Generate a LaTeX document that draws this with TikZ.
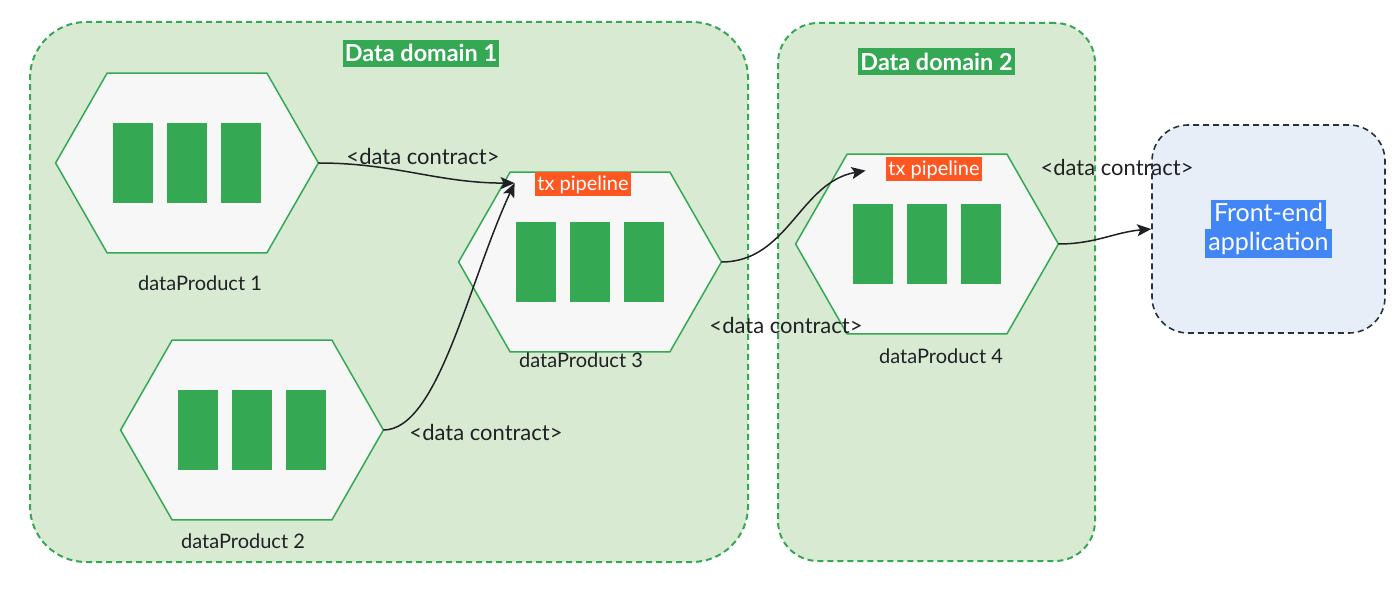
\documentclass[tikz,border=0pt]{standalone}
\usepackage{fontspec}
\setmainfont{Lato}
\usepackage{xcolor}
\usepackage{tikz}
\usetikzlibrary{arrows.meta, positioning}

\definecolor{domfill}{HTML}{D9EAD3}
\definecolor{ggreen}{HTML}{34A853}
\definecolor{hexfill}{HTML}{F6F7F6}
\definecolor{txorange}{HTML}{FF5722}
\definecolor{gblue}{HTML}{4285F4}
\definecolor{frontfill}{HTML}{E8EEF8}
\definecolor{frontline}{HTML}{263238}
\definecolor{txt}{HTML}{202124}

\setlength{\fboxsep}{1.5pt}
\newcommand{\hlblue}[1]{\colorbox{gblue}{\vphantom{Fp}#1}}

\begin{document}
\begin{tikzpicture}[
    x=0.5pt, y=0.5pt,
    domainbox/.style={rectangle, draw=ggreen, fill=domfill, line width=1pt, dash pattern=on 3pt off 2pt},
    frontbox/.style={rectangle, draw=frontline, fill=frontfill, line width=0.8pt, dash pattern=on 3pt off 2pt, rounded corners=18pt, minimum width=116.5pt, minimum height=104pt},
    domtitle/.style={rectangle, fill=ggreen, text=white, font=\bfseries\fontsize{11.7}{14}\selectfont, inner sep=1pt, minimum height=13.3pt},
    hexph/.style={rectangle, inner sep=0pt, minimum width=131pt, minimum height=89.5pt},
    hexline/.style={draw=ggreen, fill=hexfill, line width=0.75pt},
    barfill/.style={fill=ggreen},
    txtag/.style={rectangle, fill=txorange, text=white, font=\fontsize{10}{12}\selectfont, inner sep=1pt, minimum height=12pt},
    dplabel/.style={text=txt, font=\fontsize{10}{12}\selectfont, inner sep=1pt},
    dclabel/.style={text=txt, font=\fontsize{11}{13}\selectfont, inner sep=1pt},
    contract/.style={draw=txt, line width=0.75pt, -{Stealth[length=7pt, width=6pt, inset=1.5pt]}}
]
\useasboundingbox (0,0) rectangle (1400,589);

% Domains
\node [domainbox, rounded corners=28pt, minimum width=359pt, minimum height=270pt] (dom1) at (389,297) {};
\node [domainbox, rounded corners=20pt, minimum width=158.5pt, minimum height=269pt] (dom2) at (936.5,297) {};
\node [domtitle, below=9.3pt of dom1.north, xshift=16pt] (title1) {Data domain 1};
\node [domtitle, below=13pt of dom2.north] (title2) {Data domain 2};

% Front-end
\node [frontbox] (front) at (1268.5,360) {};
\node [text=white, font=\fontsize{12.5}{14.5}\selectfont, align=center, inner sep=0pt] (fetext) at (front.center) {\hlblue{Front-end}\\\hlblue{application}};

% Data products
\node [hexph] (dp1) at (187,426) {};
\node [hexph] (dp2) at (252,159) {};
\node [hexph] (dp3) at (590,327) {};
\node [hexph] (dp4) at (927,345) {};

\foreach \p in {dp1,dp2,dp3,dp4} {
  \path [hexline] (\p.west) -- ([xshift=25.75pt]\p.north west) -- ([xshift=-25.75pt]\p.north east)
    -- (\p.east) -- ([xshift=-25.75pt]\p.south east) -- ([xshift=25.75pt]\p.south west) -- cycle;
  \foreach \dx in {-27pt,0pt,27pt}
    \fill [barfill] ([xshift=\dx]\p.center) ++(-10pt,-20pt) rectangle ++(20pt,40pt);
}

\node [txtag, below=0pt of dp3.north, xshift=-3.5pt] (tx3) {tx pipeline};
\node [txtag, below=1.5pt of dp4.north, xshift=3.5pt] (tx4) {tx pipeline};

\node [dplabel, below=10pt of dp1, xshift=6.5pt] (lab1) {dataProduct 1};
\node [dplabel, below=5.5pt of dp2, xshift=-4.5pt] (lab2) {dataProduct 2};
\node [dplabel, below=-1pt of dp3, xshift=-4.5pt] (lab3) {dataProduct 3};
\node [dplabel, below=6pt of dp4, xshift=7pt] (lab4) {dataProduct 4};

% Contract labels
\node [dclabel] (dc1) at (423,433) {<data contract>};
\node [dclabel] (dc2) at (486,157) {<data contract>};
\node [dclabel] (dc3) at (786,264) {<data contract>};
\node [dclabel] (dc4) at (1117,422) {<data contract>};

% Arrow ends
\coordinate (in3) at ([shift={(28pt,-5.5pt)}]dp3.north west);
\coordinate (in4) at ([shift={(35pt,-8.25pt)}]dp4.north west);

% Contracts
\draw [contract] (dp1.east) to[out=0, in=180] (in3);
\draw [contract] (dp2.east) to[out=0, in=245, out looseness=0.5] (in3);
\draw [contract] (dp3.east) to[out=0, in=190] (in4);
\draw [contract] (dp4.east) to[out=0, in=185] (front.west);

\end{tikzpicture}
\end{document}
